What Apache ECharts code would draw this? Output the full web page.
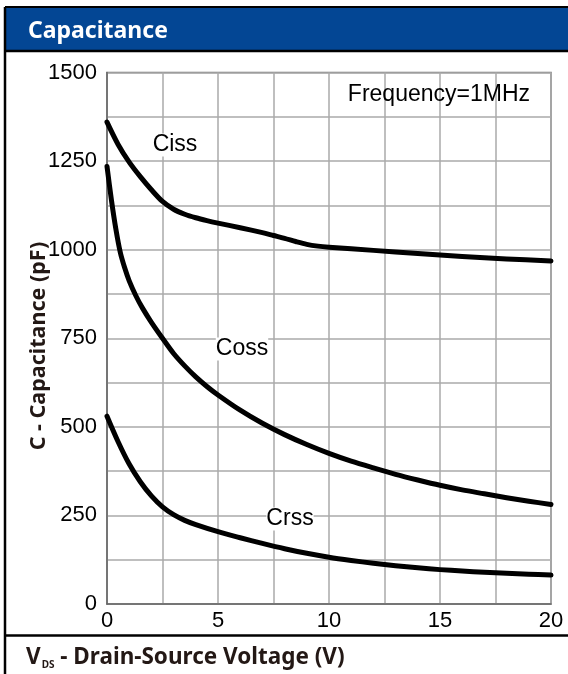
<!DOCTYPE html>
<html><head><meta charset="utf-8">
<script src="https://cdn.jsdelivr.net/npm/echarts@6/dist/echarts.min.js"></script>
<style>html,body{margin:0;padding:0;background:#fff}#c{width:568px;height:674px}</style>
</head><body><div id="c"></div>
<script>
var cissX = [0,0.5,1,1.5,2,2.5,3,3.5,4,4.5,5,6,7,7.5,8,8.5,9,9.5,10,12,14,16,18,20];
var cissY = [1360,1297,1247,1206,1169,1136,1114,1100,1090,1082,1075,1062,1048,1040,1032,1023,1015,1010,1007,998,989,981,974,968];
var cossX = [0,0.2,0.4,0.6,0.8,1,1.3,1.6,2,2.5,3,3.5,4,4.5,5,6,7,8,9,10,11,12,13,14,15,16,17,18,19,20];
var cossY = [1235,1140,1058,992,948,912,870,835,795,750,707,672,641,614,590,547,510,478,450,425,403,384,366,350,335,322,311,300,290,281];
var crssX = [0,0.5,1,1.5,2,2.5,3,3.5,4,5,6,7,8,9,10,11,12,13,14,15,16,17,18,19,20];
var crssY = [530,458,395,345,305,274,252,236,224,204,187,171,156,143,132,123,115,108,102,97,93,89.5,86.5,84,81.5];
var xTicks = [0,5,10,15,20];
var yTicks = [0,250,500,750,1000,1250,1500];

function pairs(xs, ys){ return xs.map(function(x,i){return [x, ys[i]];}); }
var chart = echarts.init(document.getElementById('c'));
var lineStyle = {color:'#000', width:5, cap:'round', join:'round'};
var curveFont = '23px "Liberation Sans", Arial';
var titleFont = '"Noto Sans", sans-serif';
chart.setOption({
  animation:false,
  grid:{left:107, top:72.5, width:444, height:531.5, show:true, borderColor:'#777', borderWidth:1.5},
  xAxis:{type:'value', min:0, max:20, interval:2.5,
    axisLine:{show:true, lineStyle:{color:'#666', width:1.5}}, axisTick:{show:false},
    splitLine:{show:true, lineStyle:{color:'#aaa', width:1.5}},
    axisLabel:{color:'#000', fontSize:22, fontFamily:'Liberation Sans, Arial', margin:6,
      formatter:function(v){ return xTicks.indexOf(v)>=0 ? String(v) : ''; }}},
  yAxis:{type:'value', min:0, max:1500, interval:125,
    axisLine:{show:true, lineStyle:{color:'#666', width:1.5}}, axisTick:{show:false},
    splitLine:{show:true, lineStyle:{color:'#aaa', width:1.5}},
    axisLabel:{color:'#000', fontSize:22, fontFamily:'Liberation Sans, Arial', margin:10,
      formatter:function(v){ return yTicks.indexOf(v)>=0 ? String(v) : ''; }}},
  series:[
    {type:'line', name:'Ciss', data:pairs(cissX,cissY), smooth:0.3, showSymbol:false, lineStyle:lineStyle},
    {type:'line', name:'Coss', data:pairs(cossX,cossY), smooth:0.3, showSymbol:false, lineStyle:lineStyle},
    {type:'line', name:'Crss', data:pairs(crssX,crssY), smooth:0.3, showSymbol:false, lineStyle:lineStyle}
  ],
  graphic:[
    {type:'rect', shape:{x:5, y:7, width:570, height:44}, style:{fill:'#034694'}, z:100},
    {type:'line', shape:{x1:5, y1:7, x2:570, y2:7}, style:{stroke:'#000', lineWidth:2}, z:101},
    {type:'line', shape:{x1:5, y1:51, x2:570, y2:51}, style:{stroke:'#000', lineWidth:2.5}, z:101},
    {type:'line', shape:{x1:5, y1:7, x2:5, y2:680}, style:{stroke:'#000', lineWidth:2.5}, z:101},
    {type:'line', shape:{x1:5, y1:635.5, x2:570, y2:635.5}, style:{stroke:'#000', lineWidth:2.5}, z:101},
    {type:'text', x:28, y:31, z:102, style:{text:'Capacitance', fill:'#fff', font:'bold 23px ' + titleFont, verticalAlign:'middle'}},
    {type:'text', x:26, y:658, z:102, style:{
      text:'{v|V}{s|DS}{t| - Drain-Source Voltage (V)}', verticalAlign:'middle',
      rich:{v:{fill:'#231815', font:'bold 22.5px ' + titleFont},
            s:{fill:'#231815', font:'bold 10px ' + titleFont, padding:[14,0,0,1]},
            t:{fill:'#231815', font:'bold 22.5px ' + titleFont}}}},
    {type:'text', x:39, y:346, rotation:Math.PI/2, z:102, style:{text:'C - Capacitance (pF)', fill:'#231815', font:'bold 21.5px ' + titleFont, align:'center', verticalAlign:'middle'}},
    {type:'text', x:530, y:95, z:102, style:{text:'Frequency=1MHz', fill:'#000', font:curveFont, align:'right', verticalAlign:'middle'}},
    {type:'text', x:175, y:145, z:102, style:{text:'Ciss', fill:'#000', font:curveFont, align:'center', verticalAlign:'middle', backgroundColor:'#fff'}},
    {type:'text', x:242, y:349, z:102, style:{text:'Coss', fill:'#000', font:curveFont, align:'center', verticalAlign:'middle', backgroundColor:'#fff'}},
    {type:'text', x:290, y:519, z:102, style:{text:'Crss', fill:'#000', font:curveFont, align:'center', verticalAlign:'middle', backgroundColor:'#fff'}}
  ]
});
</script></body></html>
